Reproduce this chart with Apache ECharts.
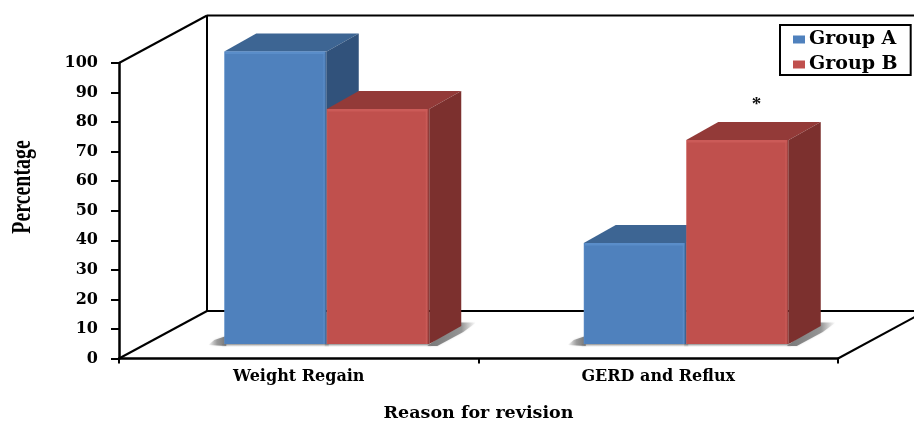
<!DOCTYPE html>
<html>
<head>
<meta charset="utf-8">
<style>
  html, body { margin: 0; padding: 0; background: #fff; }
  #chart { width: 914px; height: 421px; }
</style>
<script src="https://cdn.jsdelivr.net/npm/echarts@6/dist/echarts.min.js"></script>
</head>
<body>
<div id="chart"></div>
<script>
const categories = ['Weight Regain', 'GERD and Reflux'];
const groupA = [99, 34.2];
const groupB = [79.5, 69];
const notes = ['', '*'];
const yTicks = { min: 0, max: 100, interval: 10 };

const wallDepth = [88, -47.5];   // floor / side wall offset
const barShift = [28, -14.5];    // bars stand a bit back from the front edge
const barDepth = [32, -18];
const barWidth = 102.5;

const blue = { front: '#4f81bd', edge: '#5a8dc9', top: '#3d6593', side: '#31527b' };
const red = { front: '#c0504d', edge: '#cb5b58', top: '#933a38', side: '#7c302e' };

const chart = echarts.init(document.getElementById('chart'));

function poly(points, fill, blur) {
  const style = { fill: fill };
  if (blur) {
    style.shadowBlur = blur;
    style.shadowColor = 'rgba(150,150,150,0.45)';
  }
  return { type: 'polygon', shape: { points: points }, style: style };
}

function line(x1, y1, x2, y2) {
  return {
    type: 'line',
    shape: { x1: x1, y1: y1, x2: x2, y2: y2 },
    style: { stroke: '#000', lineWidth: 2 }
  };
}

// back wall and floor, only the corners of the grid are used
function renderFrame(params, api) {
  const lt = api.coord([0, 100]);
  const lb = api.coord([0, 0]);
  const left = params.coordSys.x;
  const right = left + params.coordSys.width;
  const dx = wallDepth[0];
  const dy = wallDepth[1];
  return {
    type: 'group',
    children: [
      line(left, lt[1], left + dx, lt[1] + dy),
      line(left, lb[1], left + dx, lb[1] + dy),
      line(left + dx, lt[1] + dy, left + dx, lb[1] + dy),
      line(left + dx, lt[1] + dy, right + dx, lt[1] + dy),
      line(left + dx, lb[1] + dy, right + dx, lb[1] + dy),
      line(right, lb[1], right + dx, lb[1] + dy)
    ]
  };
}

function makeBarRenderer(colors, side) {
  return function (params, api) {
    const cat = api.value(0);
    const base = api.coord([cat, 0]);
    const top = api.coord([cat, api.value(1)]);
    const x0 = base[0] + barShift[0] + (side === 'left' ? -barWidth : 0);
    const x1 = x0 + barWidth;
    const y0 = top[1] + barShift[1];
    const y1 = base[1] + barShift[1];
    const dx = barDepth[0];
    const dy = barDepth[1];
    const kids = [];

    // soft floor shadows
    if (side === 'left') {
      kids.push(poly([[x0 + 2, y1 + 2], [x0 - 16, y1 + 1], [x0 - 10, y1 - 4], [x0 + 2, y1 - 8]],
        new echarts.graphic.LinearGradient(0, 0, 1, 0, [
          { offset: 0, color: 'rgba(130,130,130,0)' },
          { offset: 0.5, color: 'rgba(125,125,125,0.7)' },
          { offset: 1, color: 'rgba(105,105,105,0.9)' }
        ]), 2));
    } else {
      kids.push(poly([[x1 - 2, y1 + 2], [x1 + dx - 2, y1 + dy - 3.5], [x1 + dx + 15, y1 + dy - 3.5], [x1 + dx + 2, y1 + dy + 6], [x1 + 8, y1 + 2]],
        new echarts.graphic.LinearGradient(0, 0, 1, 0, [
          { offset: 0, color: 'rgba(115,115,115,0.95)' },
          { offset: 0.7, color: 'rgba(125,125,125,0.75)' },
          { offset: 1, color: 'rgba(170,170,170,0)' }
        ]), 2));
    }
    kids.push({
      type: 'rect',
      shape: { x: x0 - 2, y: y1, width: barWidth + 4, height: 3 },
      style: {
        fill: new echarts.graphic.LinearGradient(0, 0, 0, 1, [
          { offset: 0, color: 'rgba(110,110,110,0.8)' },
          { offset: 1, color: 'rgba(180,180,180,0)' }
        ])
      }
    });

    // top, side, front
    kids.push(poly([[x0, y0], [x0 + dx, y0 + dy], [x1 + dx, y0 + dy], [x1, y0]], colors.top));
    kids.push(poly([[x1, y0], [x1 + dx, y0 + dy], [x1 + dx, y1 + dy], [x1, y1]], colors.side));
    kids.push({
      type: 'rect',
      shape: { x: x0, y: y0, width: barWidth, height: y1 - y0 },
      style: {
        fill: new echarts.graphic.LinearGradient(0, 0, 1, 0, [
          { offset: 0, color: colors.edge },
          { offset: 0.012, color: colors.front },
          { offset: 0.96, color: colors.front },
          { offset: 0.975, color: colors.edge },
          { offset: 1, color: colors.side }
        ])
      }
    });
    kids.push({
      type: 'rect',
      shape: { x: x0 + 1, y: y0, width: barWidth - 3, height: 2.5 },
      style: { fill: colors.edge }
    });

    // significance mark, sits above the back of the bar
    const note = notes[cat];
    if (note && side === 'right') {
      kids.push({
        type: 'text',
        style: {
          text: note,
          x: (x0 + x1) / 2 + 19,
          y: y0 - 35,
          align: 'center',
          verticalAlign: 'middle',
          font: 'bold 19px "Liberation Serif"',
          fill: '#111'
        }
      });
    }
    return { type: 'group', children: kids };
  };
}

chart.setOption({
  animation: false,
  backgroundColor: '#fff',
  grid: { left: 119, right: 76, top: 63, bottom: 62.5, outerBoundsMode: 'none' },
  legend: {
    data: ['Group A', 'Group B'],
    orient: 'vertical',
    left: 780,
    top: 25,
    padding: [5, 13, 1, 13],
    itemGap: 6,
    itemWidth: 12,
    itemHeight: 8,
    icon: 'rect',
    borderColor: '#000',
    borderWidth: 2,
    textStyle: {
      fontFamily: 'DejaVu Serif',
      fontWeight: 'bold',
      fontSize: 19,
      color: '#000',
      padding: [0, 0, 0, -1]
    }
  },
  xAxis: {
    type: 'category',
    data: categories,
    name: 'Reason for revision',
    nameLocation: 'middle',
    nameGap: 46,
    nameTextStyle: { fontFamily: 'DejaVu Serif', fontWeight: 'bold', fontSize: 17.5, color: '#000' },
    axisLine: { lineStyle: { color: '#000', width: 2.5 } },
    axisTick: { show: true, alignWithLabel: false, length: 5, lineStyle: { color: '#000', width: 2 } },
    axisLabel: { margin: 10, interval: 0, fontFamily: 'DejaVu Serif', fontWeight: 'bold', fontSize: 16, color: '#000' }
  },
  yAxis: {
    type: 'value',
    min: yTicks.min,
    max: yTicks.max,
    interval: yTicks.interval,
    splitLine: { show: false },
    axisLine: { show: true, lineStyle: { color: '#000', width: 2.5 } },
    axisTick: { show: true, length: 8, lineStyle: { color: '#000', width: 2 } },
    axisLabel: { margin: 21, padding: [6, 0, 0, 0], fontFamily: 'DejaVu Serif', fontWeight: 'bold', fontSize: 16, color: '#000' }
  },
  graphic: [{
    type: 'text',
    x: 23,
    y: 187,
    rotation: Math.PI / 2,
    scaleX: 0.71,
    style: {
      text: 'Percentage',
      font: 'bold 28px "Liberation Serif"',
      align: 'center',
      verticalAlign: 'middle',
      fill: '#000'
    }
  }],
  series: [
    {
      type: 'custom',
      name: 'frame',
      silent: true,
      renderItem: renderFrame,
      encode: { x: 0, y: 1 },
      data: [[0, 0]]
    },
    {
      type: 'custom',
      name: 'Group A',
      renderItem: makeBarRenderer(blue, 'left'),
      encode: { x: 0, y: 1 },
      itemStyle: { color: blue.front },
      data: groupA.map((v, i) => [i, v])
    },
    {
      type: 'custom',
      name: 'Group B',
      renderItem: makeBarRenderer(red, 'right'),
      encode: { x: 0, y: 1 },
      itemStyle: { color: red.front },
      data: groupB.map((v, i) => [i, v])
    }
  ]
});
</script>
</body>
</html>
